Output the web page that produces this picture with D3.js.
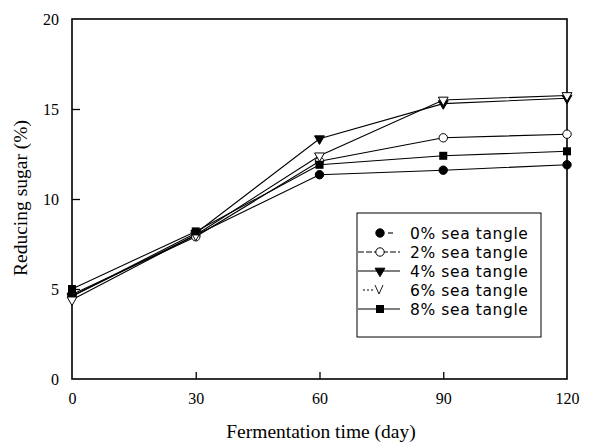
<!DOCTYPE html>
<html lang="en">
<head>
  <meta charset="UTF-8">
  <script src="https://d3js.org/d3.v7.min.js"></script>
  <title>Reducing sugar</title>
  <style>
    body { margin: 0; background: #fff; }
  </style>
</head>
<body>
  <svg width="601" height="448"></svg>
  <script>
    // data
    const days = [0, 30, 60, 90, 120];
    const labels = ["0% sea tangle", "2% sea tangle", "4% sea tangle", "6% sea tangle", "8% sea tangle"];
    const tangle0 = [4.6, 8.0, 11.35, 11.6, 11.9];
    const tangle2 = [4.7, 7.9, 12.1, 13.4, 13.6];
    const tangle4 = [4.6, 8.1, 13.35, 15.3, 15.6];
    const tangle6 = [4.4, 8.0, 12.4, 15.5, 15.75];
    const tangle8 = [5.0, 8.2, 11.9, 12.4, 12.65];
    const xTicks = [0, 30, 60, 90, 120];
    const yTicks = [0, 5, 10, 15, 20];

    const series = [
      { name: labels[0], values: tangle0, shape: "circle", fill: "#000" },
      { name: labels[1], values: tangle2, shape: "circle", fill: "#fff" },
      { name: labels[2], values: tangle4, shape: "triDown", fill: "#000" },
      { name: labels[3], values: tangle6, shape: "triDown", fill: "#fff" },
      { name: labels[4], values: tangle8, shape: "square", fill: "#000" }
    ];

    const serif = "'Liberation Serif', 'Times New Roman', serif";
    const svg = d3.select("svg");
    const xScale = d3.scaleLinear().domain([0, 120]).range([72, 567]);
    const yScale = d3.scaleLinear().domain([0, 20]).range([379, 19]);

    // frame
    svg.append("rect")
      .attr("x", 72).attr("y", 19)
      .attr("width", 567 - 72).attr("height", 379 - 19)
      .attr("fill", "none").attr("stroke", "#000").attr("stroke-width", 1.6);

    // ticks pointing inward
    const xAxis = d3.axisBottom(xScale).tickValues(xTicks).tickSizeInner(-7).tickSizeOuter(0).tickPadding(14);
    const gx = svg.append("g").attr("transform", "translate(0,379)").call(xAxis);
    const yAxis = d3.axisLeft(yScale).tickValues(yTicks).tickSizeInner(-8).tickSizeOuter(0).tickPadding(13);
    const gy = svg.append("g").attr("transform", "translate(72,0)").call(yAxis);
    [gx, gy].forEach(g => {
      g.attr("font-family", serif).attr("font-size", 16);
      g.select(".domain").remove();
      g.selectAll("line").attr("stroke", "#000").attr("stroke-width", 1.3);
      g.selectAll("text").style("font-family", serif)
        .style("font-size", "16px").attr("fill", "#000");
    });
    gx.selectAll(".tick").filter(d => d === 0 || d === 120).select("line").remove();
    gy.selectAll(".tick").filter(d => d === 0 || d === 20).select("line").remove();

    const line = d3.line().x((d, i) => xScale(days[i])).y(d => yScale(d));

    const tri = d3.symbol().type(d3.symbolTriangle).size(42);
    function drawMarker(g, shape, fill, x, y) {
      if (shape === "circle") {
        g.append("circle").attr("cx", x).attr("cy", y).attr("r", 4.2)
          .attr("fill", fill).attr("stroke", "#000").attr("stroke-width", 1);
      } else if (shape === "square") {
        g.append("rect").attr("x", x - 4).attr("y", y - 4).attr("width", 8).attr("height", 8)
          .attr("fill", fill);
      } else {
        g.append("path").attr("d", tri())
          .attr("transform", `translate(${x},${y}) rotate(180)`)
          .attr("fill", fill).attr("stroke", "#000").attr("stroke-width", 1);
      }
    }

    series.forEach(s => {
      svg.append("path")
        .attr("d", line(s.values))
        .attr("fill", "none")
        .attr("stroke", "#000")
        .attr("stroke-width", 1.1);
    });
    series.forEach(s => {
      const g = svg.append("g");
      s.values.forEach((v, i) => drawMarker(g, s.shape, s.fill, xScale(days[i]), yScale(v)));
    });

    // legend
    const legend = svg.append("g");
    legend.append("rect")
      .attr("x", 357).attr("y", 213).attr("width", 184).attr("height", 124)
      .attr("fill", "#fff").attr("stroke", "#000").attr("stroke-width", 1);
    const legendDash = [null, "6,2", null, "2,2", null];
    const legendLine = [[388, 393], [358, 400], [358, 400], [363, 373], [358, 400]];
    series.forEach((s, i) => {
      const y = 233 + i * 19;
      legend.append("line")
        .attr("x1", legendLine[i][0]).attr("x2", legendLine[i][1])
        .attr("y1", y).attr("y2", y)
        .attr("stroke", "#000").attr("stroke-width", 1.1)
        .attr("stroke-dasharray", legendDash[i]);
      if (i === 3) {
        legend.append("path").attr("d", "M375,228 L379,237 L383,228")
          .attr("fill", "none").attr("stroke", "#000").attr("stroke-width", 0.9)
          .attr("transform", `translate(0,${i * 19})`);
      } else {
        drawMarker(legend, s.shape, s.fill, 380, y);
      }
      legend.append("text")
        .attr("x", 410).attr("y", y + 5.5)
        .attr("font-family", "'DejaVu Sans', sans-serif")
        .attr("font-size", 15.5)
        .attr("letter-spacing", 0.6)
        .attr("fill", "#000")
        .text(s.name);
    });

    // axis titles
    svg.append("text")
      .attr("transform", "translate(27,198) rotate(-90)")
      .attr("text-anchor", "middle")
      .attr("font-family", serif)
      .attr("font-size", 19.5)
      .text("Reducing sugar (%)");
    svg.append("text")
      .attr("x", 321).attr("y", 438)
      .attr("text-anchor", "middle")
      .attr("font-family", serif)
      .attr("font-size", 19.5)
      .text("Fermentation time (day)");
  </script>
</body>
</html>
